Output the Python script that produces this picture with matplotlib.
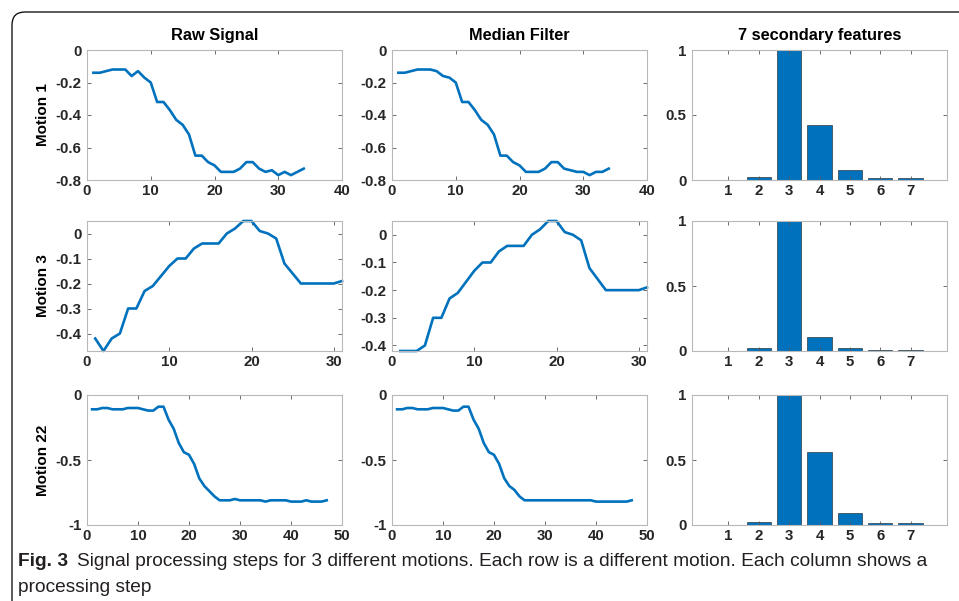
import matplotlib
matplotlib.use("Agg")
import matplotlib.pyplot as plt
from matplotlib.patches import FancyBboxPatch
import numpy as np

plt.rcParams['font.family'] = ['Liberation Sans', 'DejaVu Sans']
plt.rcParams['axes.unicode_minus'] = False

col_titles = ["Raw Signal", "Median Filter", "7 secondary features"]
row_labels = ["Motion 1", "Motion 3", "Motion 22"]

m1_raw = [-0.14, -0.14, -0.13, -0.12, -0.12, -0.12, -0.16, -0.13, -0.17, -0.20,
          -0.32, -0.32, -0.37, -0.43, -0.46, -0.52, -0.65, -0.65, -0.69, -0.71,
          -0.75, -0.75, -0.75, -0.73, -0.69, -0.69, -0.73, -0.75, -0.74, -0.77,
          -0.75, -0.77, -0.75, -0.73]
m1_med = [-0.14, -0.14, -0.13, -0.12, -0.12, -0.12, -0.13, -0.16, -0.17, -0.20,
          -0.32, -0.32, -0.37, -0.43, -0.46, -0.52, -0.65, -0.65, -0.69, -0.71,
          -0.75, -0.75, -0.75, -0.73, -0.69, -0.69, -0.73, -0.74, -0.75, -0.75,
          -0.77, -0.75, -0.75, -0.73]
m3_raw = [-0.42, -0.47, -0.42, -0.40, -0.30, -0.30, -0.23, -0.21, -0.17, -0.13,
          -0.10, -0.10, -0.06, -0.04, -0.04, -0.04, 0.00, 0.02, 0.05, 0.05,
          0.01, 0.00, -0.02, -0.12, -0.16, -0.20, -0.20, -0.20, -0.20, -0.20,
          -0.19]
m3_med = [-0.42, -0.42, -0.42, -0.40, -0.30, -0.30, -0.23, -0.21, -0.17, -0.13,
          -0.10, -0.10, -0.06, -0.04, -0.04, -0.04, 0.00, 0.02, 0.05, 0.05,
          0.01, 0.00, -0.02, -0.12, -0.16, -0.20, -0.20, -0.20, -0.20, -0.20,
          -0.19]
m22_raw = [-0.11, -0.11, -0.10, -0.10, -0.11, -0.11, -0.11, -0.10, -0.10, -0.10,
           -0.11, -0.12, -0.12, -0.09, -0.09, -0.19, -0.26, -0.37, -0.44, -0.46,
           -0.53, -0.64, -0.70, -0.74, -0.78, -0.81, -0.81, -0.81, -0.80, -0.81,
           -0.81, -0.81, -0.81, -0.81, -0.82, -0.81, -0.81, -0.81, -0.81, -0.82,
           -0.82, -0.82, -0.81, -0.82, -0.82, -0.82, -0.81]
m22_med = [-0.11, -0.11, -0.10, -0.10, -0.11, -0.11, -0.11, -0.10, -0.10, -0.10,
           -0.11, -0.12, -0.12, -0.09, -0.09, -0.19, -0.26, -0.37, -0.44, -0.46,
           -0.53, -0.64, -0.70, -0.73, -0.78, -0.81, -0.81, -0.81, -0.81, -0.81,
           -0.81, -0.81, -0.81, -0.81, -0.81, -0.81, -0.81, -0.81, -0.81, -0.82,
           -0.82, -0.82, -0.82, -0.82, -0.82, -0.82, -0.81]

feat_idx = [1, 2, 3, 4, 5, 6, 7]
m1_feat = [0.0, 0.025, 1.0, 0.42, 0.075, 0.015, 0.015]
m3_feat = [0.0, 0.02, 1.0, 0.11, 0.02, 0.01, 0.01]
m22_feat = [0.0, 0.025, 1.0, 0.56, 0.09, 0.015, 0.015]

raws = [m1_raw, m3_raw, m22_raw]
meds = [m1_med, m3_med, m22_med]
feats = [m1_feat, m3_feat, m22_feat]

xlims = [(0, 40), (0, 31), (0, 50)]
xticks = [[0, 10, 20, 30, 40], [0, 10, 20, 30], [0, 10, 20, 30, 40, 50]]
ylims = [(-0.8, 0), (-0.47, 0.05), (-1, 0)]
ylims_med = [(-0.8, 0), (-0.42, 0.05), (-1, 0)]
yticks = [[-0.8, -0.6, -0.4, -0.2, 0], [-0.4, -0.3, -0.2, -0.1, 0], [-1, -0.5, 0]]
yticklabels = [["-0.8", "-0.6", "-0.4", "-0.2", "0"],
               ["-0.4", "-0.3", "-0.2", "-0.1", "0"],
               ["-1", "-0.5", "0"]]

W, H = 959, 601
fig = plt.figure(figsize=(W / 100, H / 100), dpi=100)

BLUE = '#0072BD'
SPINE = '#b8b8b8'
TXT = '#262626'

col_x = [(87, 342), (392, 647), (692, 947)]
row_y = [(50, 180), (221, 351), (395, 525)]


def ax_at(c, r):
    x0, x1 = col_x[c]
    y0, y1 = row_y[r]
    return fig.add_axes([x0 / W, 1 - y1 / H, (x1 - x0) / W, (y1 - y0) / H])


def style(ax):
    for s in ax.spines.values():
        s.set_color(SPINE)
        s.set_linewidth(0.8)
    ax.tick_params(direction='in', top=True, right=True, length=3,
                   color='#555555', width=0.6, labelcolor=TXT, labelsize=10.8)
    ax.tick_params(axis='y', pad=4)
    ax.tick_params(axis='x', pad=3)
    for lab in ax.get_xticklabels() + ax.get_yticklabels():
        lab.set_fontweight('bold')


for r in range(3):
    for c, data, yl in [(0, raws[r], ylims[r]), (1, meds[r], ylims_med[r])]:
        ax = ax_at(c, r)
        x = np.arange(1, len(data) + 1)
        ax.plot(x, data, color=BLUE, lw=1.9, solid_joinstyle='round',
                clip_on=False)
        ax.set_xlim(*xlims[r])
        ax.set_ylim(*yl)
        ax.set_xticks(xticks[r])
        ax.set_xticklabels([str(t) for t in xticks[r]])
        ax.set_yticks(yticks[r])
        ax.set_yticklabels(yticklabels[r])
        style(ax)
        if r == 0:
            ax.set_title(col_titles[c], fontsize=11.8, fontweight='bold',
                         color='black', pad=7)
        if c == 0:
            ax.set_ylabel(row_labels[r], fontsize=11, fontweight='bold',
                          color='black', labelpad=4)
    ax = ax_at(2, r)
    ax.bar(feat_idx, feats[r], width=0.8, color=BLUE, edgecolor='#1a1a1a',
           linewidth=0.4)
    ax.set_xlim(-0.2, 8.2)
    ax.set_ylim(0, 1)
    ax.set_xticks(feat_idx)
    ax.set_xticklabels([str(i) for i in feat_idx])
    ax.set_yticks([0, 0.5, 1])
    ax.set_yticklabels(["0", "0.5", "1"])
    style(ax)
    if r == 0:
        ax.set_title(col_titles[2], fontsize=11.8, fontweight='bold',
                     color='black', pad=7)

# frame with rounded top-left corner
frame = FancyBboxPatch((12 / 100, -1.0), 20.0, (H - 12) / 100 + 1.0,
                       boxstyle="round,pad=0,rounding_size=0.13",
                       transform=fig.dpi_scale_trans, fill=False,
                       edgecolor='black', linewidth=0.9, clip_on=False)
fig.patches.append(frame)

cap_font = ['Liberation Sans', 'DejaVu Sans']
CAP = 13.8
t1 = fig.text(18 / W, 1 - 562 / H, "Fig. 3", fontsize=CAP, fontweight='bold',
              family=cap_font, color='#231f20', va='center', ha='left')
fig.canvas.draw()
bb = t1.get_window_extent()
fig.text((bb.x1 + 9) / W, 1 - 562 / H,
         "Signal processing steps for 3 different motions. Each row is a different motion. Each column shows a",
         fontsize=CAP, family=cap_font, color='#231f20', va='center', ha='left')
fig.text(18 / W, 1 - 588 / H, "processing step", fontsize=CAP,
         family=cap_font, color='#231f20', va='center', ha='left')

fig.savefig("out.png", dpi=100)
